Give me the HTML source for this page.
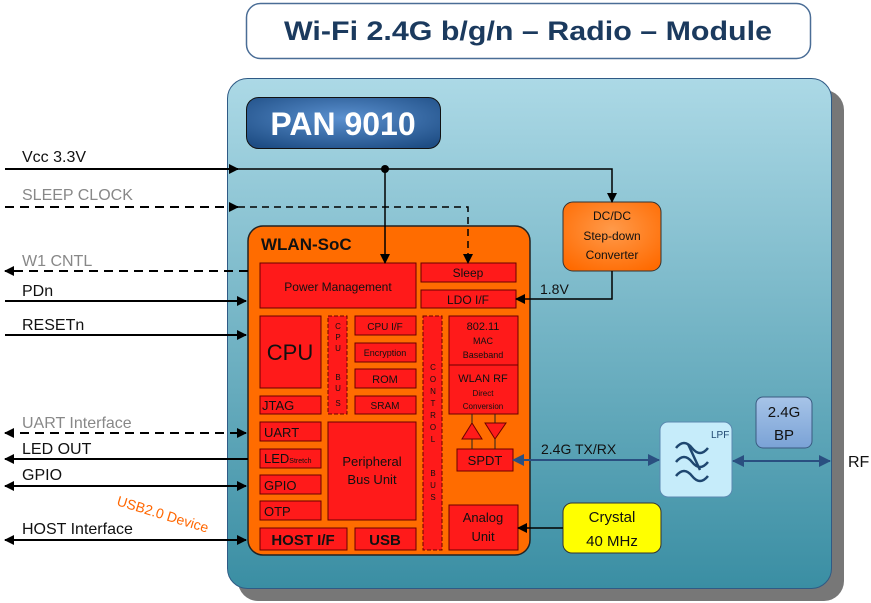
<!DOCTYPE html>
<html><head><meta charset="utf-8"><style>
html,body{margin:0;padding:0;background:#fff}
svg{display:block;font-family:"Liberation Sans",sans-serif}
</style></head><body>
<svg width="871" height="603" viewBox="0 0 871 603" xmlns="http://www.w3.org/2000/svg">
<defs>
<linearGradient id="bg" x1="0" y1="0" x2="0" y2="1"><stop offset="0" stop-color="#acd9e6"/><stop offset="1" stop-color="#3a8ea3"/></linearGradient>
<radialGradient id="pan" cx="0.5" cy="0.4" r="0.7"><stop offset="0" stop-color="#5a90cf"/><stop offset="1" stop-color="#1e4d84"/></radialGradient>
<radialGradient id="dc" cx="0.5" cy="0.4" r="0.7"><stop offset="0" stop-color="#ff9a4a"/><stop offset="1" stop-color="#ff6a00"/></radialGradient>
<linearGradient id="bp" x1="0" y1="0" x2="0" y2="1"><stop offset="0" stop-color="#a7c4e8"/><stop offset="1" stop-color="#7aa2d6"/></linearGradient>
<marker id="ak" markerWidth="10" markerHeight="10" refX="9" refY="5" orient="auto-start-reverse" markerUnits="userSpaceOnUse"><path d="M0,0 L10,5 L0,10 z" fill="#000"/></marker>
<marker id="ab" markerWidth="12" markerHeight="12" refX="11" refY="6" orient="auto-start-reverse" markerUnits="userSpaceOnUse"><path d="M0,0 L12,6 L0,12 z" fill="#2a4f80"/></marker>
</defs>
<!-- title -->
<rect x="246.5" y="3.5" width="564" height="55" rx="14" fill="#fff" stroke="#4a6d96" stroke-width="1.5"/>
<text x="528" y="40" text-anchor="middle" font-size="27" font-weight="bold" fill="#1b3a5e" textLength="488" lengthAdjust="spacingAndGlyphs">Wi-Fi 2.4G b/g/n  –  Radio  –  Module</text>
<!-- module -->
<rect x="238" y="90" width="606" height="511" rx="20" fill="#777"/>
<rect x="227.5" y="78.5" width="604" height="510" rx="20" fill="url(#bg)" stroke="#2f5a85" stroke-width="1"/>
<rect x="246.5" y="97.5" width="194" height="51" rx="12" fill="url(#pan)" stroke="#111" stroke-width="1"/>
<text x="343" y="135" text-anchor="middle" font-size="32" font-weight="bold" fill="#fff">PAN 9010</text>
<!-- SoC -->
<rect x="248" y="226" width="282" height="329" rx="15" fill="#ff6c00" stroke="#222" stroke-width="1.5"/>
<text x="261" y="250" font-size="17" font-weight="bold" fill="#111">WLAN-SoC</text>
<g fill="#ff1a1a" stroke="#6a0000" stroke-width="1">
<rect x="260" y="263" width="156" height="45"/>
<rect x="421" y="263" width="95" height="19"/>
<rect x="421" y="290" width="95" height="18"/>
<rect x="260" y="316" width="61" height="72"/>
<rect x="328" y="316" width="19" height="98" stroke-dasharray="4,2"/>
<rect x="355" y="316" width="61" height="19"/>
<rect x="355" y="343" width="61" height="19"/>
<rect x="355" y="369" width="61" height="19"/>
<rect x="355" y="396" width="61" height="18"/>
<rect x="260" y="396" width="61" height="18"/>
<rect x="260" y="422" width="61" height="19"/>
<rect x="260" y="449" width="61" height="19"/>
<rect x="260" y="475" width="61" height="19"/>
<rect x="260" y="501" width="61" height="19"/>
<rect x="260" y="528" width="87" height="22"/>
<rect x="355" y="528" width="61" height="22"/>
<rect x="328" y="422" width="88" height="98"/>
<rect x="423" y="316" width="19" height="234" stroke-dasharray="4,2"/>
<rect x="449" y="316" width="69" height="49"/>
<rect x="449" y="365" width="69" height="49"/>
<rect x="457" y="449" width="56" height="22"/>
<rect x="449" y="505" width="69" height="45"/>
<path d="M472,423 L482,439 L462,439 z"/>
<path d="M485,423 L506,423 L495,439 z"/>
</g>
<g stroke="#222" stroke-width="1"><line x1="472" y1="439" x2="472" y2="449"/><line x1="495" y1="414" x2="495" y2="423"/><line x1="472" y1="414" x2="472" y2="423"/><line x1="495" y1="439" x2="495" y2="449"/></g>
<g fill="#111" font-size="12" text-anchor="middle">
<text x="338" y="291">Power Management</text>
<text x="468" y="277">Sleep</text>
<text x="468" y="304">LDO I/F</text>
<text x="290" y="360" font-size="22">CPU</text>
<text x="385" y="330" font-size="10">CPU I/F</text>
<text x="385" y="356" font-size="9">Encryption</text>
<text x="385" y="383" font-size="11">ROM</text>
<text x="385" y="409" font-size="10">SRAM</text>
<text x="262" y="410" text-anchor="start" font-size="13">JTAG</text>
<text x="264" y="437" text-anchor="start" font-size="13">UART</text>
<text x="264" y="463" text-anchor="start" font-size="13">LED<tspan font-size="7">Stretch</tspan></text>
<text x="264" y="490" text-anchor="start" font-size="13">GPIO</text>
<text x="264" y="516" text-anchor="start" font-size="13">OTP</text>
<text x="303" y="545" font-size="15" font-weight="bold">HOST I/F</text>
<text x="385" y="545" font-size="15" font-weight="bold">USB</text>
<text x="372" y="466" font-size="13">Peripheral</text>
<text x="372" y="484" font-size="13">Bus Unit</text>
<text x="483" y="330" font-size="11">802.11</text>
<text x="483" y="344" font-size="9">MAC</text>
<text x="483" y="358" font-size="9">Baseband</text>
<text x="483" y="382" font-size="11">WLAN RF</text>
<text x="483" y="396" font-size="8">Direct</text>
<text x="483" y="409" font-size="8">Conversion</text>
<text x="485" y="465" font-size="13">SPDT</text>
<text x="483" y="522" font-size="13">Analog</text>
<text x="483" y="541" font-size="13">Unit</text>
<g font-size="8"><text x="338" y="329">C</text><text x="338" y="340">P</text><text x="338" y="351">U</text><text x="338" y="380">B</text><text x="338" y="391">U</text><text x="338" y="406">S</text></g>
<g font-size="8"><text x="433" y="370">C</text><text x="433" y="382">O</text><text x="433" y="394">N</text><text x="433" y="406">T</text><text x="433" y="418">R</text><text x="433" y="430">O</text><text x="433" y="442">L</text><text x="433" y="476">B</text><text x="433" y="488">U</text><text x="433" y="500">S</text></g>
</g>
<!-- DC/DC, crystal, LPF, BP -->
<rect x="563" y="202" width="98" height="69" rx="10" fill="url(#dc)" stroke="#333"/>
<g font-size="12" text-anchor="middle" fill="#111"><text x="612" y="220">DC/DC</text><text x="612" y="240">Step-down</text><text x="612" y="259">Converter</text></g>
<rect x="563" y="503" width="98" height="50" rx="9" fill="#ffff00" stroke="#333"/>
<g font-size="15" text-anchor="middle" fill="#111"><text x="612" y="522">Crystal</text><text x="612" y="546">40 MHz</text></g>
<rect x="660" y="422" width="72" height="75" rx="8" fill="#c6ecfa" stroke="#5a89b0"/>
<text x="711" y="438" font-size="10" fill="#1f4770">LPF</text>
<g fill="none" stroke="#1f4770" stroke-width="2.5"><path d="M676,448 q8,-10 16,0 t16,0"/><path d="M676,462 q8,-10 16,0 t16,0"/><path d="M676,476 q8,-10 16,0 t16,0"/><line x1="688" y1="444" x2="700" y2="470"/></g>
<rect x="756" y="397" width="56" height="51" rx="7" fill="url(#bp)" stroke="#3a5a80"/>
<g font-size="15" text-anchor="middle" fill="#111"><text x="784" y="417">2.4G</text><text x="784" y="440">BP</text></g>
<text x="848" y="467" font-size="16" fill="#111">RF</text>
<!-- connectors -->
<g stroke="#000" stroke-width="2" fill="none">
<line x1="5" y1="169" x2="238" y2="169" marker-end="url(#ak)"/>
<polyline points="238,169 612,169 612,202" stroke-width="1.5" marker-end="url(#ak)"/>
<line x1="385" y1="169" x2="385" y2="263" stroke-width="1.5" marker-end="url(#ak)"/>
<line x1="5" y1="207" x2="238" y2="207" stroke-dasharray="9,6" marker-end="url(#ak)"/>
<polyline points="238,207 468,207 468,263" stroke-width="1.5" stroke-dasharray="7,5" marker-end="url(#ak)"/>
<line x1="248" y1="271" x2="5" y2="271" stroke-dasharray="9,6" marker-end="url(#ak)"/>
<line x1="5" y1="301" x2="246" y2="301" marker-end="url(#ak)"/>
<line x1="5" y1="335" x2="246" y2="335" marker-end="url(#ak)"/>
<line x1="5" y1="433" x2="246" y2="433" stroke-dasharray="9,6" marker-start="url(#ak)" marker-end="url(#ak)"/>
<line x1="248" y1="459" x2="5" y2="459" marker-end="url(#ak)"/>
<line x1="5" y1="486" x2="246" y2="486" marker-start="url(#ak)" marker-end="url(#ak)"/>
<line x1="5" y1="540" x2="246" y2="540" marker-start="url(#ak)" marker-end="url(#ak)"/>
<polyline points="612,271 612,299 516,299" stroke-width="1.5" marker-end="url(#ak)"/>
<line x1="563" y1="528" x2="518" y2="528" stroke-width="1.5" marker-end="url(#ak)"/>
</g>
<circle cx="385" cy="169" r="4" fill="#000"/>
<g stroke="#2a4f80" stroke-width="2" fill="none">
<line x1="513" y1="460" x2="659" y2="460" marker-start="url(#ab)" marker-end="url(#ab)"/>
<line x1="733" y1="461" x2="830" y2="461" marker-start="url(#ab)" marker-end="url(#ab)"/>
</g>
<g font-size="16" fill="#111">
<text x="22" y="162">Vcc 3.3V</text>
<text x="22" y="200" fill="#888">SLEEP CLOCK</text>
<text x="22" y="266" fill="#888">W1 CNTL</text>
<text x="22" y="296">PDn</text>
<text x="22" y="330">RESETn</text>
<text x="22" y="428" fill="#888">UART Interface</text>
<text x="22" y="454">LED OUT</text>
<text x="22" y="480">GPIO</text>
<text x="22" y="534">HOST Interface</text>
<text x="540" y="294" font-size="14">1.8V</text>
<text x="541" y="454" font-size="14">2.4G TX/RX</text>
</g>
<text x="116" y="505" font-size="14" fill="#ff6600" transform="rotate(17 116 505)">USB2.0 Device</text>
</svg>
</body></html>
